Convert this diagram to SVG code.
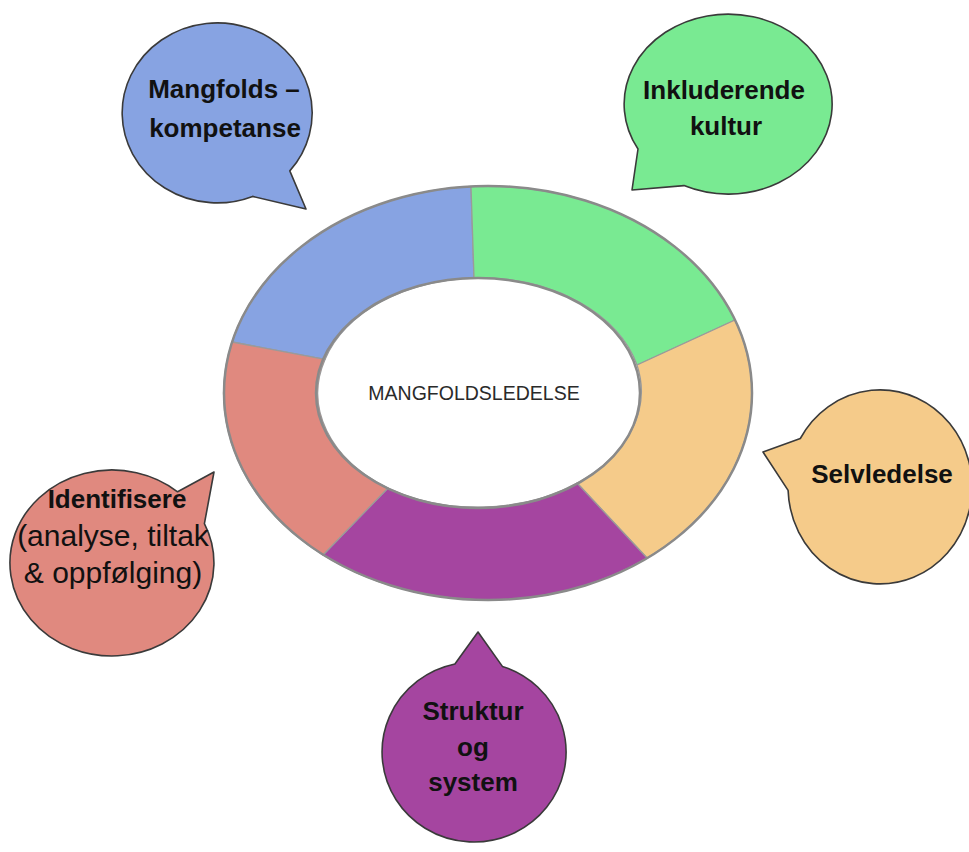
<svg xmlns="http://www.w3.org/2000/svg" width="969" height="852" viewBox="0 0 969 852">
<style>
.seg{stroke:#9a9a9a;stroke-width:1.3;stroke-linejoin:round}
.ring{fill:none;stroke:#8a8a8a;stroke-width:2.5}
.bub{stroke:#3a3a3a;stroke-width:1.6;stroke-linejoin:round}
.b{font-family:"Liberation Sans",Arial,sans-serif;font-weight:bold;font-size:26px;fill:#111;text-anchor:middle}
.r{font-family:"Liberation Sans",Arial,sans-serif;font-size:30px;fill:#111;text-anchor:middle}
.c{font-family:"Liberation Sans",Arial,sans-serif;font-size:19.5px;fill:#2a2a2a;text-anchor:middle}
</style>
<rect width="969" height="852" fill="#ffffff"/>
<g id="ring">
<path class="seg" fill="#87A3E2" d="M232,342 A264,207 0 0 1 471,186.4 L474,278 A162,115 0 0 0 325,359.4 Z"/>
<path class="seg" fill="#79EA92" d="M471,186.4 A264,207 0 0 1 735,320 L637,365 A162,115 0 0 0 474,278 Z"/>
<path class="seg" fill="#F5CB8A" d="M735,320 A264,207 0 0 1 647,558 L577,483 A162,115 0 0 0 637,365 Z"/>
<path class="seg" fill="#A545A0" d="M647,558 A264,207 0 0 1 323,555 L388,488 A162,115 0 0 0 577,483 Z"/>
<path class="seg" fill="#E0897F" d="M323,555 A264,207 0 0 1 232,342 L325,359.4 A162,115 0 0 0 388,488 Z"/>
<ellipse class="ring" cx="488" cy="393" rx="264" ry="207"/>
<ellipse class="ring" cx="478" cy="393" rx="162" ry="115" fill="#fff"/>
<text class="c" x="474" y="400">MANGFOLDSLEDELSE</text>
</g>
<g id="mangfoldskompetanse">
<path class="bub" fill="#87A3E2" d="M289.8,170.9 A95,90 0 1 0 252.6,196.4 L306,209 Z"/>
<text class="b" x="224" y="98">Mangfolds –</text>
<text class="b" x="225" y="137">kompetanse</text>
</g>
<g id="inkluderende-kultur">
<path class="bub" fill="#79EA92" d="M638,149 A104,90 0 1 1 684,185.6 L632,190 Z"/>
<text class="b" x="724" y="99">Inkluderende</text>
<text class="b" x="726" y="135">kultur</text>
</g>
<g id="selvledelse">
<path class="bub" fill="#F5CB8A" d="M800.3,438.5 A92,97 0 1 1 788.1,490.4 L763,452 Z"/>
<text class="b" x="882" y="483">Selvledelse</text>
</g>
<g id="identifisere">
<path class="bub" fill="#E0897F" d="M204.4,523.7 A102,93 0 1 1 177.6,491.8 L214,472 Z"/>
<text class="b" x="117" y="508">Identifisere</text>
<text class="r" x="113" y="546">(analyse, tiltak</text>
<text class="r" x="113" y="583">&amp; oppfølging)</text>
</g>
<g id="struktur-og-system">
<path class="bub" fill="#A545A0" d="M502.4,666.4 A92,90 0 1 1 454.9,664 L478,632 Z"/>
<text class="b" x="473" y="720">Struktur</text>
<text class="b" x="473" y="756">og</text>
<text class="b" x="473" y="791">system</text>
</g>
</svg>
